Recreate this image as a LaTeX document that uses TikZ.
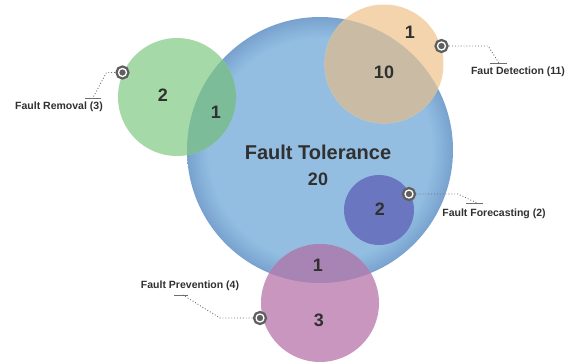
\documentclass[tikz,border=0pt]{standalone}
\usepackage{fontspec}
\setmainfont{Liberation Sans}
\definecolor{ftblue}{RGB}{147,190,226}
\definecolor{ftedge}{RGB}{120,162,206}
\definecolor{grn}{RGB}{166,217,168}
\definecolor{grnov}{RGB}{124,188,152}
\definecolor{org}{RGB}{243,212,172}
\definecolor{orgov}{RGB}{202,188,164}
\definecolor{dblue}{RGB}{106,118,192}
\definecolor{pnk}{RGB}{201,150,191}
\definecolor{pnkov}{RGB}{168,132,180}
\definecolor{numgray}{RGB}{48,48,48}
\definecolor{markgray}{RGB}{95,95,95}
\definecolor{linegray}{RGB}{110,110,110}
\pgfdeclareradialshading{ftshade}{\pgfpoint{0bp}{0bp}}{color(0bp)=(ftblue); color(21bp)=(ftblue); color(25bp)=(ftedge); color(50bp)=(ftedge)}
\begin{document}
\begin{tikzpicture}[x=1pt,y=-1pt,
  bubble/.style={circle, inner sep=0pt, minimum size=#1},
  num/.style={font=\bfseries\fontsize{18}{18}\selectfont, text=numgray},
  lbl/.style={font=\bfseries\fontsize{10.5}{12}\selectfont, text=numgray},
  marker/.style={circle, inner sep=0pt, minimum size=8pt, fill=markgray, draw=white, line width=1.3pt, preaction={draw=markgray, line width=6pt}},
  dotline/.style={linegray, dotted, line width=0.9pt},
  uline/.style={linegray, line width=0.8pt}]
\useasboundingbox (0,0) rectangle (576,364);
% circles
\node[bubble=266pt, shading=ftshade] (ft) at (320,150) {};
\node[bubble=118pt, fill=grn] (fr) at (177,97) {};
\node[bubble=119pt, fill=org] (fd) at (384,64) {};
\node[bubble=118pt, fill=pnk] (fp) at (320,303) {};
% overlaps with the big circle
\begin{scope}
  \clip (320,150) circle (133);
  \fill[grnov] (177,97) circle (59);
  \fill[orgov] (384,64) circle (59.5);
  \fill[pnkov] (320,303) circle (59);
\end{scope}
\node[bubble=70pt, fill=dblue] (ff) at (379,210) {};
% numbers
\node[font=\bfseries\fontsize{20}{20}\selectfont, text=numgray] (ftt) at (318,152) {Fault Tolerance};
\node[num] (n20) at (318,179) {20};
\node[num] (nfr) at (163,95) {2};
\node[num] (nfr1) at (216,112) {1};
\node[num] (nfd) at (410,32) {1};
\node[num] (nfd1) at (384,72) {10};
\node[num] (nff) at (380,209) {2};
\node[num] (nfp1) at (318,265) {1};
\node[num] (nfp) at (319,320) {3};
% markers
\node[marker] (m1) at (122.5,72.5) {};
\node[marker] (m2) at (441.5,46) {};
\node[marker] (m3) at (409,194) {};
\node[marker] (m4) at (260,318) {};
% labels
\node[lbl] (l1) at (59,107) {Fault Removal (3)};
\node[lbl] (l2) at (518,72) {Faut Detection (11)};
\node[lbl] (l3) at (494,214) {Fault Forecasting (2)};
\node[lbl] (l4) at (190,286) {Fault Prevention (4)};
% connector coordinates
\coordinate (k1) at (106.5,72.5);
\coordinate (e1) at (93,97.5);
\coordinate (u1a) at (85,98);
\coordinate (u1b) at (101,98);
\coordinate (k2) at (488,46);
\coordinate (e2) at (499,63);
\coordinate (u2a) at (490,63.5);
\coordinate (u2b) at (507,63.5);
\coordinate (k3) at (458,194);
\coordinate (e3) at (477,203);
\coordinate (u3a) at (466,203.5);
\coordinate (u3b) at (483,203.5);
\coordinate (k4) at (220,318);
\coordinate (e4) at (183,295);
\coordinate (u4a) at (174,295);
\coordinate (u4b) at (188,295);
% connectors
\draw[dotline] (m1.west) -- (k1) -- (e1);
\draw[uline] (u1a) -- (u1b);
\draw[dotline] (m2.east) -- (k2) -- (e2);
\draw[uline] (u2a) -- (u2b);
\draw[dotline] (m3.east) -- (k3) -- (e3);
\draw[uline] (u3a) -- (u3b);
\draw[dotline] (m4.west) -- (k4) -- (e4);
\draw[uline] (u4a) -- (u4b);
\end{tikzpicture}
\end{document}
